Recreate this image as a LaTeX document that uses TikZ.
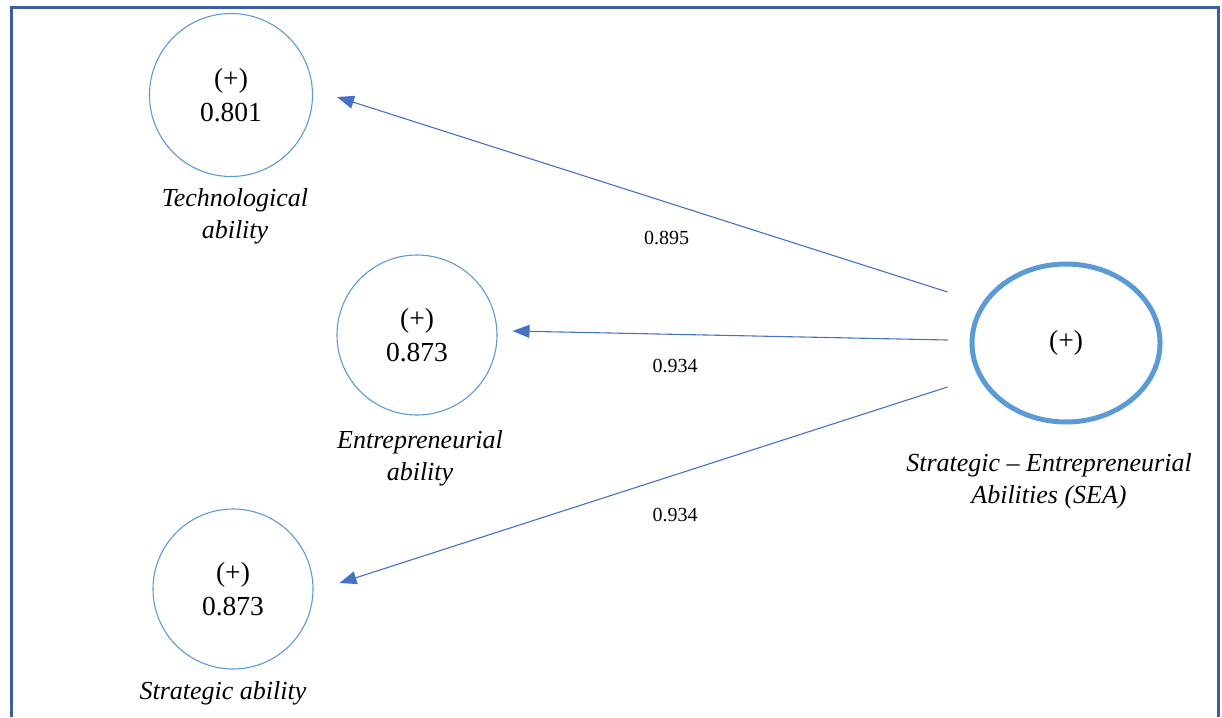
\documentclass[tikz,border=0pt]{standalone}
\usepackage{fontspec}
\setmainfont{Liberation Serif}
\usepackage{xcolor}
\usetikzlibrary{positioning,arrows.meta,calc,shapes.geometric}
\definecolor{circblue}{HTML}{5B9BD5}
\definecolor{arrblue}{HTML}{4472C4}
\definecolor{frameblue}{RGB}{62,92,160}

\begin{document}
\begin{tikzpicture}[
  x=1pt, y=-1pt,
  construct/.style={draw=circblue, circle, line width=1.1pt, minimum size=160pt,
                inner sep=0pt, align=center, font=\fontsize{27.5}{34}\selectfont},
  mainconstruct/.style={draw=circblue, ellipse, line width=5pt, minimum width=188pt,
                minimum height=158pt, inner sep=0pt, font=\fontsize{27.5}{34}\selectfont},
  cname/.style={font=\fontsize{26}{32}\selectfont\itshape, align=center, inner sep=0pt},
  arr/.style={-{Triangle[length=17pt,width=13pt]}, line width=1.1pt, arrblue},
  weight/.style={font=\fontsize{20}{24}\selectfont, inner sep=0pt, text=black}
]
\useasboundingbox (0,0) rectangle (1222,717);
% ---- frame (open at the bottom) ----
\draw[frameblue, line width=3pt] (11.5,717) -- (11.5,7.5) -- (1218,7.5) -- (1218,717);

% ---- first-order constructs ----
\node[construct, minimum size=163pt] (tech) at (231,95) {(+)\\0.801};
\node[construct] (entre) at (417,335) {(+)\\0.873};
\node[construct] (strat) at (233,589) {(+)\\0.873};

% ---- second-order construct ----
\node[mainconstruct] (sea) at (1066,343) {(+)};

% ---- construct names ----
\node[cname, below=11pt of tech, xshift=4pt] (techname) {Technological\\ability};
\node[cname, below=15pt of entre, xshift=3pt] (entrename) {Entrepreneurial\\ability};
\node[cname, below=12pt of strat, xshift=-10pt] (stratname) {Strategic ability};
\node[cname, below=29pt of sea, xshift=-17pt] (seaname) {Strategic -- Entrepreneurial\\Abilities (SEA)};

% ---- arrow ends ----
\coordinate (s1) at ($(sea.west)+(-22,-51)$);
\coordinate (s2) at ($(sea.west)+(-22,-3)$);
\coordinate (s3) at ($(sea.west)+(-22,44)$);
\coordinate (e1) at ($(tech.east)+(24,2)$);
\coordinate (e2) at ($(entre.east)+(15,-4)$);
\coordinate (e3) at ($(strat.east)+(26,-6)$);

% ---- loadings ----
\draw[arr] (s1) -- (e1) node[weight, pos=0.46, below=28pt] {0.895};
\draw[arr] (s2) -- (e2) node[weight, pos=0.626, below=24pt] {0.934};
\draw[arr] (s3) -- (e3) node[weight, pos=0.448, below=33pt] {0.934};
\end{tikzpicture}
\end{document}
